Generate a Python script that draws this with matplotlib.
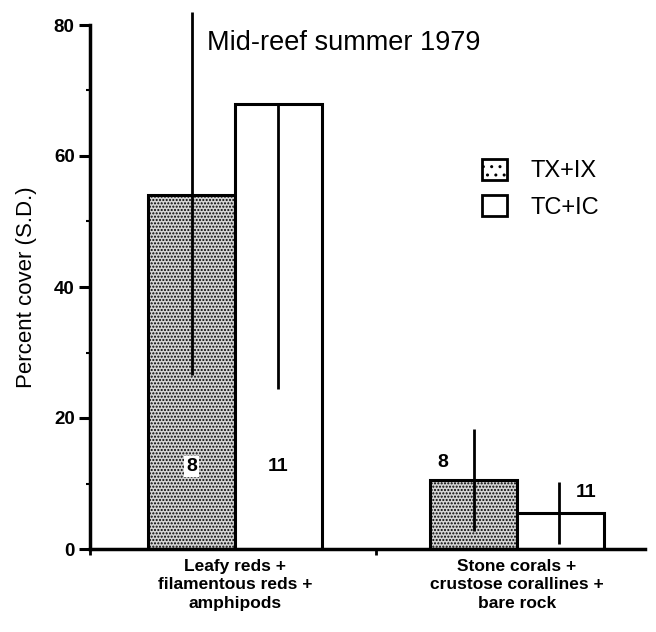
import matplotlib
matplotlib.use("Agg")
import matplotlib.pyplot as plt
from matplotlib.patches import Patch
from matplotlib.ticker import MultipleLocator, FixedLocator
import numpy as np

plt.rcParams['font.family'] = ['Liberation Sans', 'DejaVu Sans']
plt.rcParams['hatch.linewidth'] = 1.0

# percent cover, mid-reef summer 1979
categories = ["Leafy reds +\nfilamentous reds +\namphipods",
              "Stone corals +\ncrustose corallines +\nbare rock"]
series_names = ["TX+IX", "TC+IC"]
tx_ix = [54.0, 10.5]
tc_ic = [68.0, 5.5]
# S.D. drawn below / above each mean
tx_ix_sd_low = [27.5, 7.8]
tx_ix_sd_high = [28.0, 7.8]
tc_ic_sd_low = [43.5, 4.8]
tc_ic_sd_high = [0.0, 4.8]
tx_ix_n = [8, 8]
tc_ic_n = [11, 11]

fig = plt.figure(figsize=(6.56, 6.32), dpi=100)
ax = fig.add_axes([90 / 656, 1 - 549 / 632, 555 / 656, 524 / 632])

x = np.arange(len(categories))
w = 0.308

b1 = ax.bar(x - w / 2, tx_ix, w, facecolor='#d4d4d4', edgecolor='black',
            hatch='.....', linewidth=2.2, zorder=2)
b2 = ax.bar(x + w / 2, tc_ic, w, facecolor='white', edgecolor='black',
            linewidth=2.2, zorder=2)

ax.errorbar(x - w / 2, tx_ix, yerr=[tx_ix_sd_low, tx_ix_sd_high], fmt='none',
            ecolor='black', elinewidth=2, capsize=0, zorder=3, clip_on=False)
ax.errorbar(x + w / 2 + np.array([0, -0.005]), tc_ic,
            yerr=[tc_ic_sd_low, tc_ic_sd_high], fmt='none',
            ecolor='black', elinewidth=2, capsize=0, zorder=3, clip_on=False)

# sample sizes
num_font = dict(fontsize=14, fontweight='bold', ha='center', va='center', zorder=4)
ax.text(x[0] - w / 2, 12.6, str(tx_ix_n[0]),
        bbox=dict(facecolor='white', edgecolor='none', pad=1.5), **num_font)
ax.text(x[0] + w / 2, 12.6, str(tc_ic_n[0]), **num_font)
ax.text(x[1] - w / 2 - 0.11, tx_ix[1] + 2.7, str(tx_ix_n[1]), **num_font)
ax.text(x[1] + w / 2 + 0.09, tc_ic[1] + 3.2, str(tc_ic_n[1]), **num_font)

ax.set_xlim(-0.514, 1.454)
ax.set_ylim(0, 80)

ax.spines['top'].set_visible(False)
ax.spines['right'].set_visible(False)
ax.spines['left'].set_linewidth(2.5)
ax.spines['bottom'].set_linewidth(2.5)

ax.yaxis.set_major_locator(MultipleLocator(20))
ax.yaxis.set_minor_locator(MultipleLocator(10))
ax.tick_params(axis='y', which='major', length=8, width=2.2, labelsize=13.5, pad=3)
ax.tick_params(axis='y', which='minor', length=3, width=1.5)
for lab in ax.get_yticklabels():
    lab.set_fontweight('bold')

ax.set_xticks(x)
ax.set_xticklabels(categories, fontsize=12.5, fontweight='bold', linespacing=1.3)
ax.tick_params(axis='x', which='major', length=0, pad=7)
ax.xaxis.set_minor_locator(FixedLocator([-0.514, 0.5]))
ax.tick_params(axis='x', which='minor', length=4, width=2)

ax.set_ylabel("Percent cover (S.D.)", fontsize=16, labelpad=12)

ax.text(0.21, 0.965, "Mid-reef summer 1979", transform=ax.transAxes,
        fontsize=19.5, ha='left', va='center')

handles = [Patch(facecolor='white', edgecolor='black', hatch='..', linewidth=2),
           Patch(facecolor='white', edgecolor='black', linewidth=2)]
ax.legend(handles, series_names, loc='upper left', bbox_to_anchor=(0.706, 0.745),
          frameon=False, fontsize=17, handlelength=1.06, handleheight=1.0,
          handletextpad=1.0, labelspacing=0.55, borderpad=0, borderaxespad=0)

fig.savefig("out.png", dpi=100)
